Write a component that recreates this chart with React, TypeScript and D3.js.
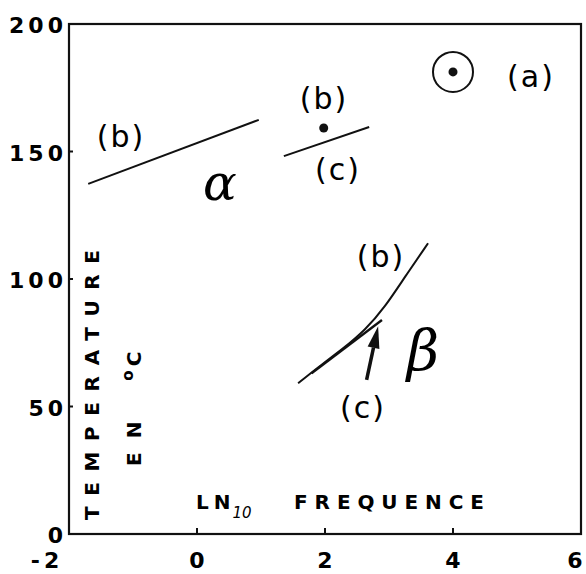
import React from "react";
import * as d3 from "d3";

const xTicks = [-2, 0, 2, 4, 6];
const yTicks = [0, 50, 100, 150, 200];
const alphaB: [number, number][] = [[-1.7, 137.3], [0.965, 162.4]];
const alphaC: [number, number][] = [[1.357, 148.2], [2.69, 159.6]];
const pointB: [number, number] = [1.98, 159.2];
const pointA: [number, number] = [4.0, 181.2];
const betaB: [number, number][] = [
  [1.58, 59.1], [1.9, 65.6], [2.26, 72.2], [2.63, 80.0], [2.94, 89.1], [3.25, 100.9], [3.61, 114.0],
];
const betaC: [number, number][] = [[1.79, 63.0], [2.89, 83.9]];
const arrowC: [number, number][] = [[2.65, 60.4], [2.83, 81.5]];

const W = 586, H = 574;

export default function App() {
  const x = d3.scaleLinear().domain([-2, 6]).range([69, 581]);
  const y = d3.scaleLinear().domain([0, 200]).range([534, 24]);
  const line = d3.line<[number, number]>().x(d => x(d[0])).y(d => y(d[1]));
  const curve = d3.line<[number, number]>().x(d => x(d[0])).y(d => y(d[1])).curve(d3.curveBasis);

  const tickFont = { fontFamily: "DejaVu Sans", fontWeight: "bold", fontSize: 22, letterSpacing: 4 } as const;
  const handFont = { fontFamily: "DejaVu Sans", fontSize: 30, letterSpacing: 2 } as const;
  const titleFont = { fontFamily: "DejaVu Sans", fontWeight: "bold", fontSize: 20 } as const;

  const ax0 = x(arrowC[0][0]), ay0 = y(arrowC[0][1]);
  const ax1 = x(arrowC[1][0]), ay1 = y(arrowC[1][1]);
  const ang = Math.atan2(ay1 - ay0, ax1 - ax0);
  const hl = 22, hw = 6;
  const bx = ax1 - hl * Math.cos(ang), by = ay1 - hl * Math.sin(ang);
  const head = [
    [ax1, ay1],
    [bx + hw * Math.sin(ang), by - hw * Math.cos(ang)],
    [bx - hw * Math.sin(ang), by + hw * Math.cos(ang)],
  ].map(p => p.join(",")).join(" ");

  return (
    <svg width={W} height={H} style={{ position: "absolute", left: 0, top: 0, background: "#fff" }}>
      <rect x={x(-2)} y={y(200)} width={x(6) - x(-2)} height={y(0) - y(200)} fill="none" stroke="#111" strokeWidth={2.2} />
      {xTicks.slice(1, -1).map(t => (
        <line key={"xt" + t} x1={x(t)} x2={x(t)} y1={y(0)} y2={y(0) - 6} stroke="#111" strokeWidth={2} />
      ))}
      {yTicks.slice(1, -1).map(t => (
        <line key={"yt" + t} x1={x(-2)} x2={x(-2) + 4} y1={y(t)} y2={y(t)} stroke="#111" strokeWidth={2} />
      ))}
      {xTicks.map(t => (
        <text key={"xl" + t} x={x(t) - (t === -2 ? 24 : t === 6 ? 6 : 0) + 2} y={y(0) + 34} textAnchor="middle" {...tickFont}>{t}</text>
      ))}
      {yTicks.map(t => (
        <text key={"yl" + t} x={x(-2) - 2} y={y(t) + 9} textAnchor="end" {...tickFont}>{t}</text>
      ))}
      <text transform="translate(99,520) rotate(-90)" textLength={270} lengthAdjust="spacing" {...titleFont}>TEMPERATURE</text>
      <text transform="translate(141,466) rotate(-90)" {...titleFont} letterSpacing={14}>
        EN <tspan dx={6} dy={-8} fontSize={15} letterSpacing={4}>o</tspan><tspan dy={8}>C</tspan>
      </text>
      <text x={196} y={509} {...titleFont} letterSpacing={5}>LN<tspan dx={-3} dy={9} fontSize={15} fontWeight="normal" fontStyle="italic" letterSpacing={0}>10</tspan></text>
      <text x={294} y={509} textLength={190} lengthAdjust="spacing" {...titleFont}>FREQUENCE</text>
      <path d={line(alphaB) || ""} fill="none" stroke="#111" strokeWidth={2} />
      <path d={line(alphaC) || ""} fill="none" stroke="#111" strokeWidth={2} />
      <path d={curve(betaB) || ""} fill="none" stroke="#111" strokeWidth={2} />
      <path d={line(betaC) || ""} fill="none" stroke="#111" strokeWidth={2.4} />
      <circle cx={x(pointB[0])} cy={y(pointB[1])} r={4.5} fill="#111" />
      <circle cx={x(pointA[0])} cy={y(pointA[1])} r={20} fill="none" stroke="#111" strokeWidth={2} />
      <circle cx={x(pointA[0])} cy={y(pointA[1])} r={4.5} fill="#111" />
      <line x1={ax0} y1={ay0} x2={bx} y2={by} stroke="#111" strokeWidth={3.5} />
      <polygon points={head} fill="#111" />
      <text x={121} y={147} textAnchor="middle" {...handFont}>(b)</text>
      <text x={324} y={109} textAnchor="middle" {...handFont}>(b)</text>
      <text x={338} y={180} textAnchor="middle" {...handFont}>(c)</text>
      <text x={531} y={87} textAnchor="middle" {...handFont}>(a)</text>
      <text x={381} y={267} textAnchor="middle" {...handFont}>(b)</text>
      <text x={363} y={418} textAnchor="middle" {...handFont}>(c)</text>
      <text x={220} y={200} textAnchor="middle" fontFamily="DejaVu Serif" fontStyle="italic" fontSize={50}>α</text>
      <text x={423} y={370} textAnchor="middle" fontFamily="DejaVu Serif" fontStyle="italic" fontSize={56}>β</text>
    </svg>
  );
}
